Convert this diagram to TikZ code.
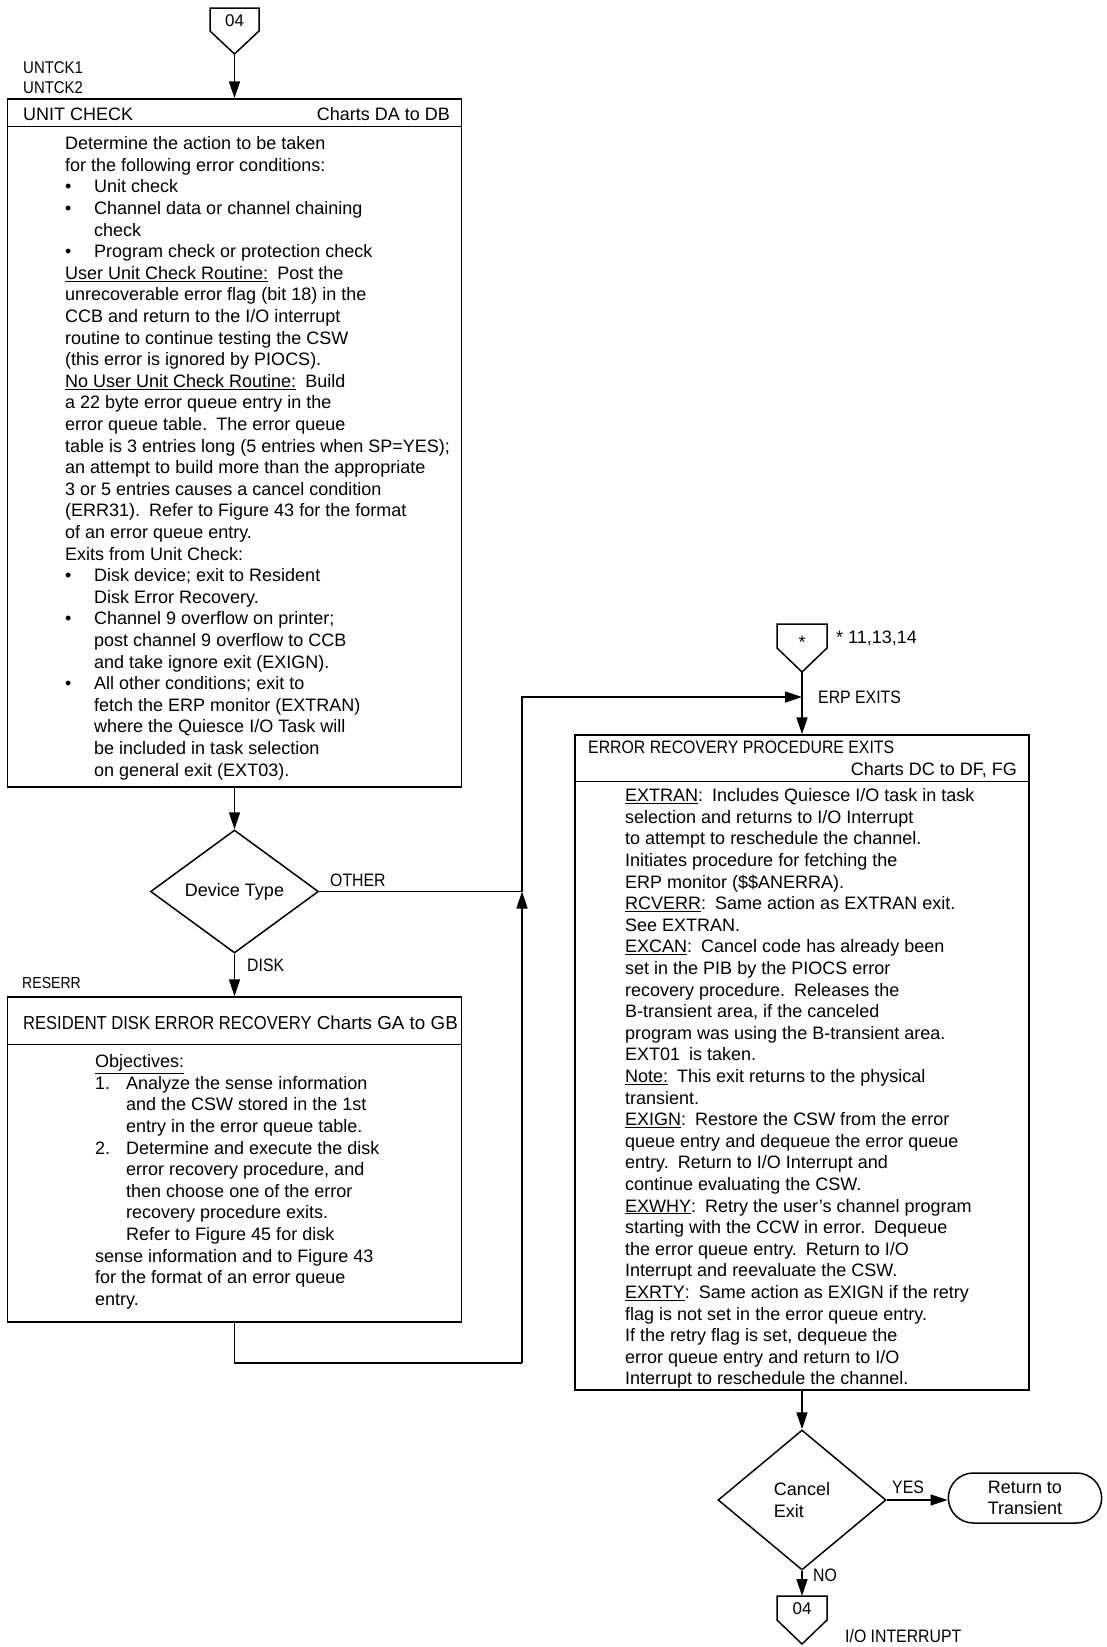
\documentclass[tikz,border=0pt]{standalone}
\usepackage{fontspec}
\setmainfont{Liberation Sans}
\newfontfamily\capsfont[FakeStretch=0.88]{Liberation Sans}
\usetikzlibrary{arrows.meta, shapes.geometric, shapes.misc}
\newcommand{\bul}{\makebox[29pt][l]{\textbullet}}
\newcommand{\indsp}[1][29pt]{\hspace*{#1}}
\newcommand{\fs}[1]{\fontsize{#1}{21.6}\selectfont}

\begin{document}
\begin{tikzpicture}[x=1pt, y=-1pt,
    link/.style={line width=1.5pt},
    arr/.style={line width=1.5pt, -{Triangle[length=17pt,width=11pt]}},
    box/.style={draw, line width=1.5pt, minimum width=454pt, inner sep=0},
    body/.style={anchor=north west, inner sep=0, align=left, font=\fs{18}},
    lbl/.style={anchor=west, inner sep=0, font=\capsfont\fs{18}},
    dec/.style={diamond, draw, line width=1.5pt, inner sep=0, aspect=1.25,
      minimum width=168pt, align=left, font=\fs{18}},
    term/.style={rounded rectangle, draw, line width=1.5pt, minimum width=160pt,
      minimum height=50pt, align=center, font=\fs{18}}]
      \useasboundingbox (0,0) rectangle (1107,1647);

      % 1. connector 04 at the top
      \draw[link] (210,8) -- (259,8) -- (259,31) -- (234.5,54) -- (210,31) -- cycle;
      \node (c04) [inner sep=0, font=\fs{17}] at (234.5,21) {04};
      \coordinate (c04tip) at (234.5,54);

      % 2. unit check box
      \node (untck1) [lbl, font=\capsfont\fs{17}] at (23,68) {UNTCK1};
      \node (untck2) [lbl, font=\capsfont\fs{17}] at (23,88) {UNTCK2};
      \node (uc) [box, minimum height=688pt] at (234.5,443) {};
      \draw[link] ([yshift=-28pt]uc.north west) -- ([yshift=-28pt]uc.north east);
      \node (uchead) [lbl, font=\fs{18}] at (23,114) {UNIT CHECK};
      \node (ucchart) [lbl, anchor=east, font=\fs{18}] at (450,114) {Charts DA to DB};
      \node (ucbody) [body] at (65,136.5) {Determine the action to be taken\\
        for the following error conditions:\\
        \bul Unit check\\
        \bul Channel data or channel chaining\\
        \indsp check\\
        \bul Program check or protection check\\
        \underline{User Unit Check Routine:}\enspace Post the\\
        unrecoverable error flag (bit 18) in the\\
        CCB and return to the I/O interrupt\\
        routine to continue testing the CSW\\
        (this error is ignored by PIOCS).\\
        \underline{No User Unit Check Routine:}\enspace Build\\
        a 22 byte error queue entry in the\\
        error queue table.\enspace The error queue\\
        table is 3 entries long (5 entries when SP=YES);\\
        an attempt to build more than the appropriate\\
        3 or 5 entries causes a cancel condition\\
        (ERR31).\enspace Refer to Figure 43 for the format\\
        of an error queue entry.\\
        Exits from Unit Check:\\
        \bul Disk device; exit to Resident\\
        \indsp Disk Error Recovery.\\
        \bul Channel 9 overflow on printer;\\
        \indsp post channel 9 overflow to CCB\\
        \indsp and take ignore exit (EXIGN).\\
        \bul All other conditions; exit to\\
        \indsp fetch the ERP monitor (EXTRAN)\\
        \indsp where the Quiesce I/O Task will\\
        \indsp be included in task selection\\
        \indsp on general exit (EXT03).};

      % 3. device type decision
      \node (dev) [dec, minimum height=123pt] at (234.5,891.5) {Device Type};
      \node (other) [lbl] at (330,880) {OTHER};
      \node (disk) [lbl] at (247,965) {DISK};

      % 4. resident disk error recovery box
      \node (reserr) [lbl, font=\capsfont\fs{16}] at (22,983) {RESERR};
      \node (rd) [box, minimum height=325pt] at (234.5,1159.5) {};
      \draw[link] ([yshift=-48pt]rd.north west) -- ([yshift=-48pt]rd.north east);
      \node (rdhead) [lbl, font=\fs{18.8}] at (23,1023) {{\capsfont RESIDENT DISK ERROR RECOVERY} Charts GA to GB};
      \node (rdbody) [body] at (95,1054.5) {\underline{Objectives:}\\
        \makebox[31pt][l]{1.}Analyze the sense information\\
        \indsp[31pt]and the CSW stored in the 1st\\
        \indsp[31pt]entry in the error queue table.\\
        \makebox[31pt][l]{2.}Determine and execute the disk\\
        \indsp[31pt]error recovery procedure, and\\
        \indsp[31pt]then choose one of the error\\
        \indsp[31pt]recovery procedure exits.\\
        \indsp[31pt]Refer to Figure 45 for disk\\
        sense information and to Figure 43\\
        for the format of an error queue\\
        entry.};

      % 5. connector * and ERP exits box
      \draw[link] (777,624) -- (827,624) -- (827,648) -- (802,672) -- (777,648) -- cycle;
      \node (cstar) [inner sep=0, font=\fs{18}] at (802,642) {*};
      \coordinate (cstartip) at (802,672);
      \node (cstarref) [lbl, font=\fs{18}] at (836,638) {* 11,13,14};
      \node (erpexits) [lbl] at (818,697) {ERP EXITS};
      \node (erp) [box, minimum height=655pt] at (802,1062.5) {};
      \draw[link] ([yshift=-47pt]erp.north west) -- ([yshift=-47pt]erp.north east);
      \node (erphead) [lbl] at (588,747) {ERROR RECOVERY PROCEDURE EXITS};
      \node (erpchart) [lbl, anchor=east, font=\fs{18}] at (1017,770) {Charts DC to DF, FG};
      \node (erpbody) [body] at (625,788.5) {\underline{EXTRAN}:\enspace Includes Quiesce I/O task in task\\
        selection and returns to I/O Interrupt\\
        to attempt to reschedule the channel.\\
        Initiates procedure for fetching the\\
        ERP monitor (\$\$ANERRA).\\
        \underline{RCVERR}:\enspace Same action as EXTRAN exit.\\
        See EXTRAN.\\
        \underline{EXCAN}:\enspace Cancel code has already been\\
        set in the PIB by the PIOCS error\\
        recovery procedure.\enspace Releases the\\
        B-transient area, if the canceled\\
        program was using the B-transient area.\\
        EXT01\enspace is taken.\\
        \underline{Note:}\enspace This exit returns to the physical\\
        transient.\\
        \underline{EXIGN}:\enspace Restore the CSW from the error\\
        queue entry and dequeue the error queue\\
        entry.\enspace Return to I/O Interrupt and\\
        continue evaluating the CSW.\\
        \underline{EXWHY}:\enspace Retry the user's channel program\\
        starting with the CCW in error.\enspace Dequeue\\
        the error queue entry.\enspace Return to I/O\\
        Interrupt and reevaluate the CSW.\\
        \underline{EXRTY}:\enspace Same action as EXIGN if the retry\\
        flag is not set in the error queue entry.\\
        If the retry flag is set, dequeue the\\
        error queue entry and return to I/O\\
        Interrupt to reschedule the channel.};

      % 6. cancel exit decision
      \node (cxl) [dec, minimum height=140pt] at (802,1500) {Cancel\\Exit};
      \node (ret) [term] at (1025,1498) {Return to\\Transient};
      \node (yes) [lbl] at (892,1487) {YES};
      \node (no) [lbl] at (813,1575) {NO};

      % 7. connector 04 at the bottom
      \draw[link] (777,1596) -- (827,1596) -- (827,1620) -- (802,1644) -- (777,1620) -- cycle;
      \node (c04b) [inner sep=0, font=\fs{17}] at (802,1609) {04};
      \coordinate (c04btop) at (802,1596);
      \node (ioint) [lbl] at (845,1636) {I/O INTERRUPT};

      % 8. flow lines
      \coordinate (riser) at (522,1363);
      \coordinate (merge) at (802,697);
      \draw[arr] (c04tip) -- (uc.north);
      \draw[arr] (uc.south) -- (dev.north);
      \draw[arr] (dev.south) -- (rd.north);
      \draw[link] (rd.south) |- (riser);
      \draw[arr] (riser) -- (dev.east -| riser);
      \draw[link] (dev.east) -- (dev.east -| riser);
      \draw[arr] (dev.east -| riser) |- (merge);
      \draw[arr] (cstartip) -- (erp.north);
      \draw[arr] (erp.south) -- (cxl.north);
      \draw[arr] (cxl.east) -- (cxl.east -| ret.west);
      \draw[arr] (cxl.south) -- (c04btop);
    \end{tikzpicture}
\end{document}
